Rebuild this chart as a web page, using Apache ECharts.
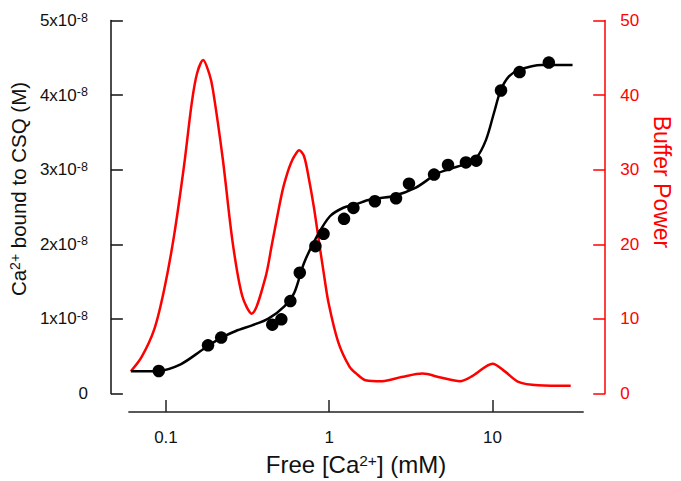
<!DOCTYPE html>
<html><head><meta charset="utf-8">
<script src="https://cdn.jsdelivr.net/npm/echarts@6/dist/echarts.min.js"></script>
<style>html,body{margin:0;padding:0;background:#fff}#c{width:681px;height:481px}</style>
</head><body><div id="c"></div>
<script>
// Free [Ca2+] (mM) -> Ca2+ bound to CSQ (M), fitted curve
const fitConc  = [0.0610,0.0891,0.123,0.169,0.213,0.268,0.337,0.424,0.533,0.611,0.701,0.842,1.01,1.22,1.43,1.78,2.44,3.37,4.66,6.62,7.94,9.12,10.2,11.2,12.6,14.6,20.0,30.9];
const fitBound = [0.298e-8,0.302e-8,0.392e-8,0.593e-8,0.736e-8,0.838e-8,0.914e-8,1.003e-8,1.172e-8,1.351e-8,1.75e-8,2.11e-8,2.376e-8,2.49e-8,2.53e-8,2.60e-8,2.643e-8,2.756e-8,2.956e-8,3.067e-8,3.157e-8,3.40e-8,3.76e-8,4.06e-8,4.25e-8,4.34e-8,4.405e-8,4.405e-8];
// measured points
const dataConc  = [0.0904,0.181,0.218,0.448,0.509,0.578,0.660,0.823,0.923,1.232,1.406,1.903,2.565,3.079,4.383,5.337,6.87,7.95,11.27,14.64,22.11];
const dataBound = [0.302e-8,0.646e-8,0.749e-8,0.923e-8,0.994e-8,1.239e-8,1.619e-8,1.975e-8,2.14e-8,2.341e-8,2.488e-8,2.577e-8,2.617e-8,2.813e-8,2.934e-8,3.063e-8,3.098e-8,3.121e-8,4.062e-8,4.308e-8,4.436e-8];
// buffer power
const bufConc  = [0.0610,0.0710,0.0851,0.0977,0.112,0.129,0.144,0.155,0.169,0.184,0.194,0.223,0.256,0.293,0.335,0.405,0.444,0.486,0.520,0.557,0.583,0.611,0.655,0.701,0.752,0.805,0.862,0.923,0.989,1.135,1.33,1.46,1.67,2.11,2.77,3.73,4.81,6.32,7.60,10.0,12.0,14.4,19.0,30.1];
const bufPower = [2.98,4.9,8.7,14.0,21.1,30.5,39.0,42.9,44.7,42.9,40.7,31.4,20.3,13.1,10.7,15.4,19.8,24.3,27.4,29.7,30.9,31.8,32.6,31.8,28.7,25.0,20.6,16.3,12.2,6.9,3.6,2.7,1.78,1.64,2.2,2.67,2.14,1.64,2.4,4.0,2.9,1.56,1.1,1.03];

const xTickValues = [0.1, 1, 10];
const xTickLabels = ['0.1', '1', '10'];
const leftTickValues = [0, 1e-8, 2e-8, 3e-8, 4e-8, 5e-8];
const leftTickLabels = ['0', '1x10-8', '2x10-8', '3x10-8', '4x10-8', '5x10-8'];
const rightTickValues = [0, 10, 20, 30, 40, 50];
const xRange = [0.0593, 35.9];

const FONT = '"Liberation Sans", Arial, sans-serif';
const lg = v => Math.log10(v);
const zip = (xs, ys) => xs.map((x, i) => [lg(x), ys[i]]);

const chart = echarts.init(document.getElementById('c'), null, {renderer: 'svg'});
chart.setOption({
  animation: false,
  backgroundColor: '#fff',
  grid: {left: 127, right: 88, top: 20.5, bottom: 86.5, containLabel: false},
  xAxis: {
    type: 'value',
    min: lg(xRange[0]), max: lg(xRange[1]),
    offset: 18.5,
    splitLine: {show: false},
    axisLine: {show: true, onZero: false, lineStyle: {color: '#222', width: 1.5}},
    axisTick: {show: true, inside: true, length: 12, lineStyle: {color: '#222', width: 1.5},
      customValues: xTickValues.map(lg)},
    axisLabel: {customValues: xTickValues.map(lg), margin: 17, fontSize: 17, color: '#111', fontFamily: FONT,
      formatter: v => { const i = xTickValues.findIndex(t => Math.abs(lg(t) - v) < 1e-6); return i >= 0 ? xTickLabels[i] : ''; }},
    name: 'Free [Ca{sup|2+}] (mM)',
    nameLocation: 'middle', nameGap: 40,
    nameTextStyle: {fontSize: 24, color: '#111', fontFamily: FONT,
      rich: {sup: {fontSize: 15.5, verticalAlign: 'top', color: '#111', fontFamily: FONT, padding: [0,0,6,0]}}}
  },
  yAxis: [{
    type: 'value', position: 'left', offset: 18,
    min: 0, max: 5e-8, interval: 1e-8,
    splitLine: {show: false},
    axisLine: {show: true, onZero: false, lineStyle: {color: '#111', width: 1.5}},
    axisTick: {show: true, inside: true, length: 12, lineStyle: {color: '#111', width: 1.5}},
    axisLabel: {margin: 23, fontSize: 17, color: '#111', fontFamily: FONT,
      formatter: v => { const i = leftTickValues.findIndex(t => Math.abs(t - v) < 1e-12); return i >= 0 ? leftTickLabels[i].replace(/10-8$/, '10{sup|-8}') : ''; },
      rich: {sup: {fontSize: 12.5, verticalAlign: 'top', color: '#111', fontFamily: FONT, padding: [0,0,6,0]}}},
    name: 'Ca{sup|2+} bound to CSQ (M)',
    nameLocation: 'middle', nameGap: 72, nameRotate: 90,
    nameTextStyle: {fontSize: 20.5, color: '#111', fontFamily: FONT, padding: [0, 0, 0, 36],
      rich: {sup: {fontSize: 14, verticalAlign: 'top', color: '#111', fontFamily: FONT, padding: [0,0,6,0]}}}
  }, {
    type: 'value', position: 'right', offset: 22,
    min: 0, max: 50, interval: 10,
    splitLine: {show: false},
    axisLine: {show: true, onZero: false, lineStyle: {color: '#ff0000', width: 1.5}},
    axisTick: {show: true, inside: true, length: 12, lineStyle: {color: '#ff0000', width: 1.5}},
    axisLabel: {margin: 15, fontSize: 17, color: '#ff0000', fontFamily: FONT,
      formatter: v => rightTickValues.includes(v) ? String(v) : ''},
    name: 'Buffer Power',
    nameLocation: 'middle', nameGap: 41, nameRotate: -90,
    nameTextStyle: {fontSize: 23, color: '#ff0000', fontFamily: FONT, padding: [0, 50, 0, 0]}
  }],
  series: [{
    type: 'line', yAxisIndex: 1, data: zip(bufConc, bufPower),
    smooth: 0.3, showSymbol: false, lineStyle: {color: '#ff0000', width: 2.5}, z: 2
  }, {
    type: 'line', yAxisIndex: 0, data: zip(fitConc, fitBound),
    smooth: 0.3, showSymbol: false, lineStyle: {color: '#000', width: 2.5}, z: 3
  }, {
    type: 'scatter', yAxisIndex: 0, data: zip(dataConc, dataBound),
    symbol: 'circle', symbolSize: 12.5, itemStyle: {color: '#000', opacity: 1}, z: 4
  }]
});
</script></body></html>
